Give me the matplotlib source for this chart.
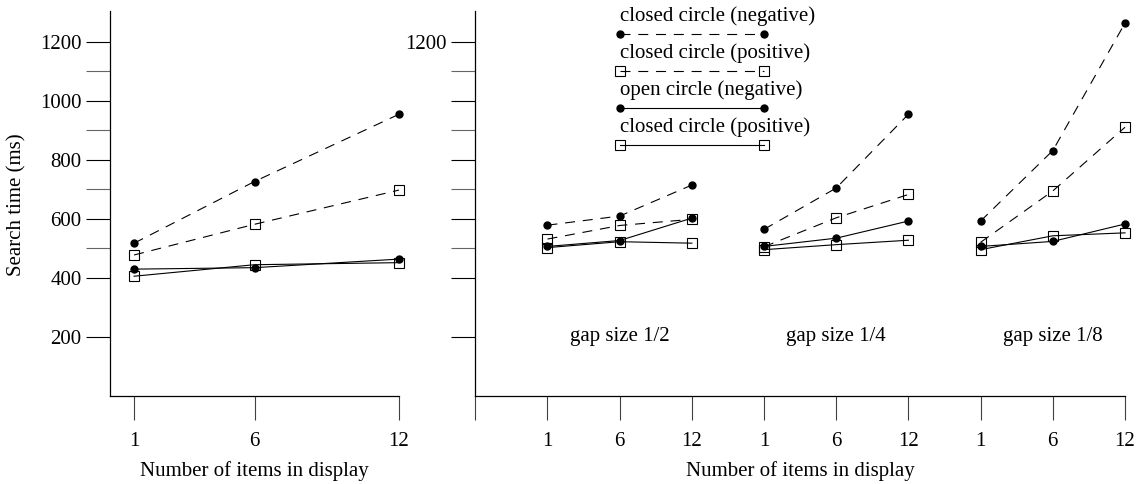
import matplotlib
matplotlib.use('Agg')
from matplotlib import pyplot as plt

plt.rcParams['font.family'] = ['Liberation Serif', 'DejaVu Serif']
plt.rcParams['font.size'] = 15

# data
items = [1, 6, 12]
item_labels = ['1', '6', '12']

# single display (left panel)
neg_closed = [517, 726, 954]
pos_closed = [477, 581, 697]
neg_open = [429, 434, 463]
pos_open = [405, 444, 451]

# gap conditions (right panel)
gap_labels = ['gap size 1/2', 'gap size 1/4', 'gap size 1/8']
gap_neg_closed = [[578, 609, 714], [564, 704, 954], [592, 831, 1263]]
gap_pos_closed = [[531, 577, 598], [505, 603, 682], [520, 694, 910]]
gap_neg_open = [[506, 526, 602], [506, 534, 592], [506, 523, 582]]
gap_pos_open = [[502, 522, 517], [495, 512, 527], [495, 542, 552]]

legend_labels = ['closed circle (negative)', 'closed circle (positive)',
                 'open circle (negative)', 'closed circle (positive)']
legend_y = [1227, 1102, 976, 851]

W, H = 1140, 484
fig = plt.figure(figsize=(W / 100, H / 100), dpi=100)

def px_axes(x0, x1, y0, y1):
    return fig.add_axes([x0 / W, 1 - y1 / H, (x1 - x0) / W, (y1 - y0) / H])

ax1 = px_axes(110, 399, 11, 395.7)
ax2 = px_axes(475.3, 1125, 11, 395.7)

LW = 0.8
dash = (0, (9, 7))
styles = [
    dict(ls=dash, marker='o', ms=5, mfc='black', mec='black'),
    dict(ls=dash, marker='s', ms=7.2, mfc='none', mec='black', mew=0.8),
    dict(ls='-', marker='o', ms=5, mfc='black', mec='black'),
    dict(ls='-', marker='s', ms=7.2, mfc='none', mec='black', mew=0.8),
]

# left panel
for vals, st in zip([neg_closed, pos_closed, neg_open, pos_open], styles):
    ax1.plot(items, vals, color='black', lw=LW, clip_on=False, **st)

# right panel: each gap size takes 3 slots on a shared axis
for g in range(len(gap_labels)):
    pos = [3 * g + 1 + i for i in range(len(items))]
    for series, st in zip([gap_neg_closed, gap_pos_closed, gap_neg_open, gap_pos_open], styles):
        ax2.plot(pos, series[g], color='black', lw=LW, clip_on=False, **st)
    ax2.text(3 * g + 2, 185, gap_labels[g], ha='center', va='baseline')

# hand-drawn key
for lab, yv, st in zip(legend_labels, legend_y, styles):
    ax2.plot([2, 4], [yv, yv], color='black', lw=LW, clip_on=False, **st)
    ax2.text(2, yv + 42, lab, ha='left', va='baseline')

for ax in (ax1, ax2):
    ax.set_ylim(0, 1304)
    for s in ('top', 'right'):
        ax.spines[s].set_visible(False)
    for s in ('left', 'bottom'):
        ax.spines[s].set_linewidth(0.9)
    ax.set_yticks([200, 400, 600, 800, 1000, 1200])
    ax.set_yticks([500, 700, 900, 1100], minor=True)
    ax.tick_params(axis='y', which='major', length=17, width=0.8, pad=3.6)
    ax.tick_params(axis='y', which='minor', length=17, width=0.8, color='0.4')
    ax.tick_params(axis='x', length=17, width=0.8, pad=9, color='0.25')

ax1.set_xlim(0, 12)
ax1.set_xticks(items)
ax1.set_xticklabels(item_labels)

ax2.set_xlim(0, 9)
ax2.set_xticks(list(range(10)))
ax2.set_xticklabels([''] + item_labels * 3)
ax2.set_yticklabels(['', '', '', '', '', '1200'])

fig.text(16.5 / W, 1 - 204.5 / H, 'Search time (ms)', rotation=90, ha='center', va='center')
fig.text(254 / W, 1 - 476 / H, 'Number of items in display', ha='center', va='baseline')
fig.text(800 / W, 1 - 476 / H, 'Number of items in display', ha='center', va='baseline')

fig.savefig('out.png', dpi=100)
